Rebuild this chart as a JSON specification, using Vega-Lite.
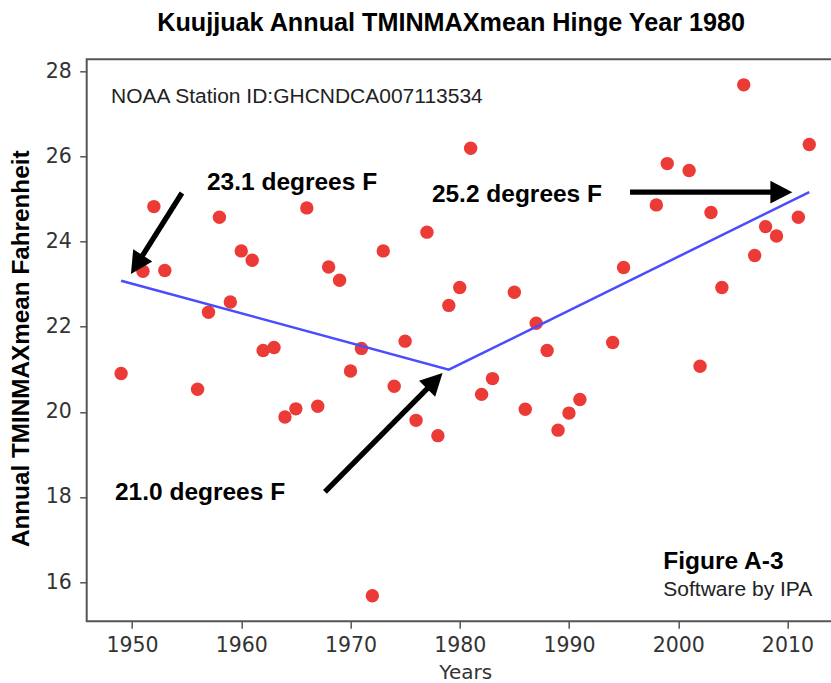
{
  "$schema": "https://vega.github.io/schema/vega-lite/v6.json",
  "autosize": "none",
  "width": 757,
  "height": 562,
  "padding": {"left": 86.7, "top": 59.3, "right": 0, "bottom": 62},
  "background": "white",
  "title": {
    "text": "Kuujjuak Annual TMINMAXmean Hinge Year 1980",
    "font": "Liberation Sans",
    "fontSize": 25.2,
    "fontWeight": "bold",
    "color": "#000000",
    "baseline": "alphabetic",
    "offset": 3,
    "anchor": "middle",
    "dx": -14
  },
  "config": {
    "view": {"stroke": "#555555", "strokeWidth": 2},
    "axis": {
      "domain": false,
      "grid": false,
      "tickColor": "#555555",
      "tickSize": 7,
      "tickWidth": 1.5,
      "labelFont": "DejaVu Sans",
      "labelColor": "#333333",
      "labelFontSize": 20.5
    }
  },
  "datasets": {
    "obs": [
      {"year": 1949, "temp": 20.90}, {"year": 1951, "temp": 23.30}, {"year": 1952, "temp": 24.82},
      {"year": 1953, "temp": 23.32}, {"year": 1956, "temp": 20.53}, {"year": 1957, "temp": 22.34},
      {"year": 1958, "temp": 24.57}, {"year": 1959, "temp": 22.58}, {"year": 1960, "temp": 23.78},
      {"year": 1961, "temp": 23.56}, {"year": 1962, "temp": 21.44}, {"year": 1963, "temp": 21.51},
      {"year": 1964, "temp": 19.88}, {"year": 1965, "temp": 20.07}, {"year": 1966, "temp": 24.79},
      {"year": 1967, "temp": 20.13}, {"year": 1968, "temp": 23.40}, {"year": 1969, "temp": 23.09},
      {"year": 1970, "temp": 20.96}, {"year": 1971, "temp": 21.49}, {"year": 1972, "temp": 15.68},
      {"year": 1973, "temp": 23.78}, {"year": 1974, "temp": 20.60}, {"year": 1975, "temp": 21.66},
      {"year": 1976, "temp": 19.80}, {"year": 1977, "temp": 24.22}, {"year": 1978, "temp": 19.44},
      {"year": 1979, "temp": 22.50}, {"year": 1980, "temp": 22.92}, {"year": 1981, "temp": 26.19},
      {"year": 1982, "temp": 20.41}, {"year": 1983, "temp": 20.78}, {"year": 1985, "temp": 22.81},
      {"year": 1986, "temp": 20.06}, {"year": 1987, "temp": 22.08}, {"year": 1988, "temp": 21.44},
      {"year": 1989, "temp": 19.57}, {"year": 1990, "temp": 19.97}, {"year": 1991, "temp": 20.29},
      {"year": 1994, "temp": 21.63}, {"year": 1995, "temp": 23.39}, {"year": 1998, "temp": 24.86},
      {"year": 1999, "temp": 25.83}, {"year": 2001, "temp": 25.67}, {"year": 2002, "temp": 21.07},
      {"year": 2003, "temp": 24.68}, {"year": 2004, "temp": 22.92}, {"year": 2006, "temp": 27.68},
      {"year": 2007, "temp": 23.67}, {"year": 2008, "temp": 24.35}, {"year": 2009, "temp": 24.13},
      {"year": 2011, "temp": 24.57}, {"year": 2012, "temp": 26.28}
    ],
    "hinge": [
      {"year": 1949, "fit": 23.08},
      {"year": 1979, "fit": 20.99},
      {"year": 2012, "fit": 25.16}
    ],
    "arrows": [
      {"id": "a", "xt": 1954.57, "yt": 25.14, "xs": 1950.49, "ys": 23.48, "xp": 1949.9, "yp": 23.24},
      {"id": "b", "xt": 1995.59, "yt": 25.16, "xs": 2009.54, "ys": 25.16, "xp": 2010.45, "yp": 25.16},
      {"id": "c", "xt": 1967.66, "yt": 18.12, "xs": 1977.66, "ys": 20.71, "xp": 1978.43, "yp": 20.91}
    ],
    "boldLabels": [
      {"label": "23.1 degrees F", "x": 1956.86, "y": 25.20},
      {"label": "25.2 degrees F", "x": 1977.45, "y": 24.94},
      {"label": "21.0 degrees F", "x": 1948.44, "y": 17.92},
      {"label": "Figure A-3", "x": 1998.64, "y": 16.30}
    ],
    "plainLabels": [
      {"label": "NOAA Station ID:GHCNDCA007113534", "x": 1948.08, "y": 27.26},
      {"label": "Software by IPA", "x": 1998.64, "y": 15.67}
    ]
  },
  "encoding": {
    "x": {
      "type": "quantitative",
      "scale": {"domain": [1945.85, 2015.15], "zero": false, "nice": false},
      "axis": {
        "title": "Years",
        "values": [1950, 1960, 1970, 1980, 1990, 2000, 2010],
        "format": "d",
        "labelBaseline": "alphabetic",
        "labelPadding": 23.3,
        "titleFont": "DejaVu Sans",
        "titleFontSize": 20,
        "titleFontWeight": "normal",
        "titleColor": "#333333",
        "titleBaseline": "alphabetic",
        "titleY": 57.5,
        "titleX": 378.5
      }
    },
    "y": {
      "type": "quantitative",
      "scale": {"domain": [15.08, 28.28], "zero": false, "nice": false},
      "axis": {
        "title": "Annual TMINMAXmean Fahrenheit",
        "values": [16, 18, 20, 22, 24, 26, 28],
        "labelPadding": 8.3,
        "labelBaseline": "middle",
        "titleFont": "Liberation Sans",
        "titleFontSize": 24.3,
        "titleFontWeight": "bold",
        "titleColor": "#000000",
        "titleAngle": 270,
        "titleAlign": "center",
        "titleBaseline": "alphabetic",
        "titleX": -58,
        "titleY": 289
      }
    }
  },
  "layer": [
    {
      "data": {"name": "obs"},
      "mark": {"type": "circle", "size": 180, "color": "#ec3b36", "opacity": 1},
      "encoding": {
        "x": {"field": "year", "type": "quantitative"},
        "y": {"field": "temp", "type": "quantitative"}
      }
    },
    {
      "data": {"name": "hinge"},
      "mark": {"type": "line", "color": "#4b4bff", "strokeWidth": 2.5},
      "encoding": {
        "x": {"field": "year", "type": "quantitative"},
        "y": {"field": "fit", "type": "quantitative"}
      }
    },
    {
      "data": {"name": "arrows"},
      "mark": {"type": "rule", "color": "#000000", "strokeWidth": 5.3, "strokeCap": "butt"},
      "encoding": {
        "x": {"field": "xt", "type": "quantitative"},
        "y": {"field": "yt", "type": "quantitative"},
        "x2": {"field": "xs"},
        "y2": {"field": "ys"}
      }
    },
    {
      "data": {"name": "arrows"},
      "transform": [{"filter": "datum.id === 'a'"}],
      "mark": {"type": "point", "shape": "M0,0L1.03,2L-1.03,2Z", "filled": true, "color": "#000000", "opacity": 1, "size": 484, "angle": 212.5, "strokeWidth": 0},
      "encoding": {
        "x": {"field": "xp", "type": "quantitative"},
        "y": {"field": "yp", "type": "quantitative"}
      }
    },
    {
      "data": {"name": "arrows"},
      "transform": [{"filter": "datum.id === 'b'"}],
      "mark": {"type": "point", "shape": "M0,0L1.03,2L-1.03,2Z", "filled": true, "color": "#000000", "opacity": 1, "size": 484, "angle": 90, "strokeWidth": 0},
      "encoding": {
        "x": {"field": "xp", "type": "quantitative"},
        "y": {"field": "yp", "type": "quantitative"}
      }
    },
    {
      "data": {"name": "arrows"},
      "transform": [{"filter": "datum.id === 'c'"}],
      "mark": {"type": "point", "shape": "M0,0L1.03,2L-1.03,2Z", "filled": true, "color": "#000000", "opacity": 1, "size": 484, "angle": 44.7, "strokeWidth": 0},
      "encoding": {
        "x": {"field": "xp", "type": "quantitative"},
        "y": {"field": "yp", "type": "quantitative"}
      }
    },
    {
      "data": {"name": "boldLabels"},
      "mark": {"type": "text", "align": "left", "baseline": "alphabetic", "font": "Liberation Sans", "fontSize": 24.5, "fontWeight": "bold", "color": "#000000"},
      "encoding": {
        "x": {"field": "x", "type": "quantitative"},
        "y": {"field": "y", "type": "quantitative"},
        "text": {"field": "label"}
      }
    },
    {
      "data": {"name": "plainLabels"},
      "mark": {"type": "text", "align": "left", "baseline": "alphabetic", "font": "Liberation Sans", "fontSize": 21, "color": "#222222"},
      "encoding": {
        "x": {"field": "x", "type": "quantitative"},
        "y": {"field": "y", "type": "quantitative"},
        "text": {"field": "label"}
      }
    }
  ]
}
